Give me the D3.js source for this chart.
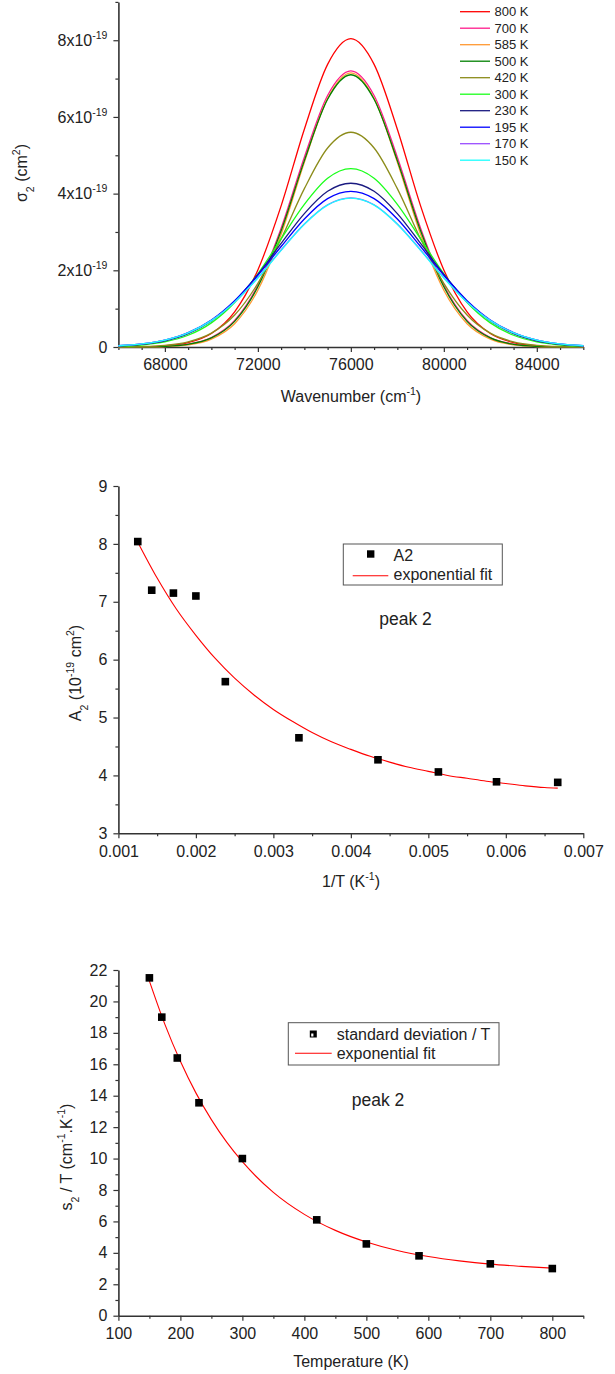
<!DOCTYPE html>
<html>
<head>
<meta charset="utf-8">
<script src="https://cdn.jsdelivr.net/npm/d3@7"></script>
<style>
  body { margin: 0; background: #fff; }
  svg { display: block; font-family: "Liberation Sans", Arial, sans-serif; }
</style>
</head>
<body>
<svg id="chart" width="615" height="1374"></svg>
<script>
// ---- top panel: gaussian band for each temperature (values in 1e-19 cm2) ----
const wavenumbers = [66000, 67000, 68000, 69000, 70000, 71000, 72000, 73000, 74000, 75000, 76000,
  77000, 78000, 79000, 80000, 81000, 82000, 83000, 84000, 85000, 86000];
const bandLabels = ["800 K", "700 K", "585 K", "500 K", "420 K", "300 K", "230 K", "195 K", "170 K", "150 K"];
const bandColors = ["#ff0000", "#ff1a8c", "#ff9933", "#008000", "#8c8c1a", "#1aff1a", "#1a1a80", "#0000ff", "#9a4dff", "#1affff"];
const band800 = [0.001, 0.007, 0.031, 0.114, 0.353, 0.918, 2.01, 3.68, 5.68, 7.37, 8.04, 7.37, 5.68, 3.68, 2.01, 0.918, 0.353, 0.114, 0.031, 0.007, 0.001];
const band700 = [0.001, 0.004, 0.018, 0.073, 0.247, 0.691, 1.61, 3.10, 4.95, 6.56, 7.20, 6.56, 4.95, 3.10, 1.61, 0.691, 0.247, 0.073, 0.018, 0.004, 0.001];
const band585 = [0.000, 0.002, 0.013, 0.057, 0.206, 0.608, 1.48, 2.94, 4.82, 6.48, 7.15, 6.48, 4.82, 2.94, 1.48, 0.608, 0.206, 0.057, 0.013, 0.002, 0.000];
const band500 = [0.001, 0.003, 0.017, 0.069, 0.236, 0.668, 1.57, 3.03, 4.86, 6.46, 7.10, 6.46, 4.86, 3.03, 1.57, 0.668, 0.236, 0.069, 0.017, 0.003, 0.001];
const band420 = [0.003, 0.012, 0.043, 0.134, 0.361, 0.834, 1.66, 2.82, 4.13, 5.19, 5.60, 5.19, 4.13, 2.82, 1.66, 0.834, 0.361, 0.134, 0.043, 0.012, 0.003];
const band300 = [0.018, 0.052, 0.133, 0.306, 0.629, 1.16, 1.91, 2.82, 3.72, 4.40, 4.65, 4.40, 3.72, 2.82, 1.91, 1.16, 0.629, 0.306, 0.133, 0.052, 0.018];
const band230 = [0.026, 0.068, 0.162, 0.349, 0.678, 1.19, 1.89, 2.70, 3.48, 4.06, 4.27, 4.06, 3.48, 2.70, 1.89, 1.19, 0.678, 0.349, 0.162, 0.068, 0.026];
const band195 = [0.032, 0.079, 0.181, 0.376, 0.706, 1.21, 1.87, 2.62, 3.34, 3.87, 4.06, 3.87, 3.34, 2.62, 1.87, 1.21, 0.706, 0.376, 0.181, 0.079, 0.032];
const band170 = [0.032, 0.080, 0.181, 0.372, 0.693, 1.17, 1.81, 2.53, 3.21, 3.71, 3.89, 3.71, 3.21, 2.53, 1.81, 1.17, 0.693, 0.372, 0.181, 0.080, 0.032];
const band150 = [0.032, 0.079, 0.179, 0.368, 0.688, 1.17, 1.80, 2.52, 3.20, 3.70, 3.88, 3.70, 3.20, 2.52, 1.80, 1.17, 0.688, 0.368, 0.179, 0.079, 0.032];
const bands = [band800, band700, band585, band500, band420, band300, band230, band195, band170, band150];
const topXTicks = [68000, 72000, 76000, 80000, 84000];
const topYTicks = [0, 2, 4, 6, 8];

// ---- middle panel: amplitude vs 1/T ----
const invT = [0.00125, 0.00143, 0.00171, 0.00200, 0.00238, 0.00333, 0.00435, 0.00513, 0.00588, 0.00667];
const amplitude = [8.04, 7.20, 7.15, 7.10, 5.62, 4.65, 4.27, 4.06, 3.89, 3.88];
const ampFitX = [0.00125, 0.0015, 0.00175, 0.002, 0.00225, 0.0025, 0.00275, 0.003, 0.00325, 0.0035, 0.00375, 0.004,
  0.00425, 0.0045, 0.00475, 0.005, 0.00525, 0.0055, 0.00575, 0.006, 0.00625, 0.0065, 0.00667];
const ampFitY = [8.03, 7.41, 6.87, 6.42, 6.02, 5.68, 5.39, 5.14, 4.93, 4.74, 4.58, 4.45,
  4.33, 4.23, 4.14, 4.07, 4.00, 3.95, 3.90, 3.86, 3.82, 3.79, 3.78];
const midXTicks = [0.001, 0.002, 0.003, 0.004, 0.005, 0.006, 0.007];
const midYTicks = [3, 4, 5, 6, 7, 8, 9];

// ---- bottom panel: standard deviation / T vs temperature ----
const temperature = [150, 170, 195, 230, 300, 420, 500, 585, 700, 800];
const sdOverT = [21.5, 19.0, 16.4, 13.55, 10.0, 6.1, 4.57, 3.81, 3.30, 3.0];
const sdFitX = [150, 175, 200, 225, 250, 275, 300, 350, 400, 450, 500, 550, 600, 650, 700, 750, 800];
const sdFitY = [21.30, 18.54, 16.19, 14.18, 12.48, 11.03, 9.80, 7.85, 6.45, 5.43, 4.69, 4.15, 3.77, 3.49, 3.28, 3.14, 3.03];
const botXTicks = [100, 200, 300, 400, 500, 600, 700, 800];
const botYTicks = [0, 2, 4, 6, 8, 10, 12, 14, 16, 18, 20, 22];

const svg = d3.select("#chart");
const FONT = "16px 'Liberation Sans', Arial, sans-serif";
const AXIS_COLOR = "#333";
const TEXT_COLOR = "#222";

// draws left + bottom axis with major and minor ticks
function drawAxes(x, y, xMajor, xMinor, yMajor, yMinor, xFormat, yFormat) {
  const [x0] = x.range();
  const [y0] = y.range();

  const xg = svg.append("g").attr("transform", `translate(0,${y0})`);
  const xMinorG = xg.append("g").call(d3.axisBottom(x).tickValues(xMinor).tickSize(3).tickSizeOuter(0));
  xMinorG.select(".domain").remove();
  xMinorG.selectAll("text").remove();
  xg.append("g").call(d3.axisBottom(x).tickValues(xMajor).tickSize(5).tickPadding(7).tickSizeOuter(0).tickFormat(xFormat));

  const yg = svg.append("g").attr("transform", `translate(${x0},0)`);
  const yMinorG = yg.append("g").call(d3.axisLeft(y).tickValues(yMinor).tickSize(3).tickSizeOuter(0));
  yMinorG.select(".domain").remove();
  yMinorG.selectAll("text").remove();
  const yMajorG = yg.append("g").call(d3.axisLeft(y).tickValues(yMajor).tickSize(5).tickPadding(6).tickSizeOuter(0).tickFormat(yFormat));

  [xg, yg].forEach(g => {
    g.selectAll("g").attr("font-family", null).attr("font-size", null);
    g.selectAll(".domain").attr("stroke", AXIS_COLOR).attr("stroke-width", 1.6);
    g.selectAll(".tick line").attr("stroke", AXIS_COLOR).attr("stroke-width", 1.2);
    g.selectAll("text").style("font", FONT).attr("fill", TEXT_COLOR);
  });
  return { xg, yg, yMajorG };
}

// text with sub/superscript parts: [[text, level]] level: 0 normal, -1 sub, 1 sup
function richText(parent, parts, size) {
  const t = parent.append("text").attr("fill", TEXT_COLOR).style("font-size", size + "px");
  let level = 0;
  parts.forEach(([s, lvl]) => {
    const dy = (level - lvl) * size * 0.42;
    t.append("tspan")
      .attr("dy", dy)
      .style("font-size", lvl === 0 ? size + "px" : (size * 0.66) + "px")
      .text(s);
    level = lvl;
  });
  return t;
}

function xLabel(cx, baseline, parts) {
  richText(svg, parts, 16).attr("x", cx).attr("y", baseline).attr("text-anchor", "middle");
}

function yLabel(cx, cy, parts) {
  richText(svg.append("g").attr("transform", `translate(${cx},${cy}) rotate(-90)`), parts, 16)
    .attr("x", 0).attr("y", 0).attr("dy", "0.35em").attr("text-anchor", "middle");
}

// ================= top panel =================
const xTop = d3.scaleLinear().domain([66000, 86000]).range([118.4, 583.3]);
const yTop = d3.scaleLinear().domain([0, 9]).range([347, 1.9]);
const topAxes = drawAxes(xTop, yTop, topXTicks, d3.range(66000, 86001, 1000).filter(v => v % 4000 !== 0),
  topYTicks, [1, 3, 5, 7, 9], d3.format("d"), d => d === 0 ? "0" : d + "x10");
topAxes.yMajorG.selectAll("text").filter(d => d !== 0)
  .append("tspan").attr("dy", -7).style("font-size", "10.5px").text("-19");

const bandLine = d3.line()
  .x((d, i) => xTop(wavenumbers[i]))
  .y(d => yTop(d))
  .curve(d3.curveMonotoneX);

bands.forEach((b, i) => {
  svg.append("path")
    .datum(b)
    .attr("fill", "none")
    .attr("stroke", bandColors[i])
    .attr("stroke-width", 1.3)
    .attr("d", bandLine);
});

// legend top right
const topLegend = svg.append("g");
bandLabels.forEach((label, i) => {
  const yy = 11.7 + i * 16.5;
  topLegend.append("line")
    .attr("x1", 460).attr("x2", 490).attr("y1", yy).attr("y2", yy)
    .attr("stroke", bandColors[i]).attr("stroke-width", 1.3);
  topLegend.append("text")
    .attr("x", 494.5).attr("y", yy + 4.6)
    .attr("fill", TEXT_COLOR).style("font", "13px 'Liberation Sans', Arial, sans-serif")
    .text(label);
});

xLabel(351, 402, [["Wavenumber (cm", 0], ["-1", 1], [")", 0]]);
yLabel(27, 173, [["σ", 0], ["2", -1], [" (cm", 0], ["2", 1], [")", 0]]);

// ================= middle panel =================
const xMid = d3.scaleLinear().domain([0.001, 0.007]).range([118.4, 583.3]);
const yMid = d3.scaleLinear().domain([3, 9]).range([833.3, 486]);
drawAxes(xMid, yMid, midXTicks, d3.range(6).map(i => 0.0015 + i * 0.001),
  midYTicks, d3.range(6).map(i => 3.5 + i), d3.format(".3f"), d3.format("d"));

const ampFit = d3.line()
  .x((d, i) => xMid(ampFitX[i]))
  .y(d => yMid(d))
  .curve(d3.curveMonotoneX);
svg.append("path").datum(ampFitY)
  .attr("fill", "none").attr("stroke", "#ff0000").attr("stroke-width", 1.1)
  .attr("d", ampFit);

svg.append("g").selectAll("rect")
  .data(amplitude)
  .join("rect")
  .attr("x", (d, i) => xMid(invT[i]) - 3.8)
  .attr("y", d => yMid(d) - 3.8)
  .attr("width", 7.6).attr("height", 7.6)
  .attr("fill", "#000");

// legend
svg.append("rect").attr("x", 343.3).attr("y", 544).attr("width", 159).attr("height", 41)
  .attr("fill", "#fff").attr("stroke", "#555").attr("stroke-width", 1);
svg.append("rect").attr("x", 367).attr("y", 550.3).attr("width", 7.4).attr("height", 7.4).attr("fill", "#000");
svg.append("line").attr("x1", 352.7).attr("x2", 388.3).attr("y1", 575.7).attr("y2", 575.7)
  .attr("stroke", "#ff0000").attr("stroke-width", 1.1);
svg.append("text").attr("x", 393.5).attr("y", 560.6).attr("fill", TEXT_COLOR).style("font", FONT).text("A2");
svg.append("text").attr("x", 393.5).attr("y", 580.2).attr("fill", TEXT_COLOR).style("font", FONT).text("exponential fit");
svg.append("text").attr("x", 379.3).attr("y", 625).attr("fill", TEXT_COLOR)
  .style("font", "17.5px 'Liberation Sans', Arial, sans-serif").text("peak 2");

xLabel(351, 887, [["1/T (K", 0], ["-1", 1], [")", 0]]);
yLabel(81, 673, [["A", 0], ["2", -1], [" (10", 0], ["-19", 1], [" cm", 0], ["2", 1], [")", 0]]);

// ================= bottom panel =================
const xBot = d3.scaleLinear().domain([100, 850]).range([118.4, 583.3]);
const yBot = d3.scaleLinear().domain([0, 22]).range([1315.7, 970]);
drawAxes(xBot, yBot, botXTicks, d3.range(150, 851, 100),
  botYTicks, d3.range(1, 22, 2), d3.format("d"), d3.format("d"));

const sdFit = d3.line()
  .x((d, i) => xBot(sdFitX[i]))
  .y(d => yBot(d))
  .curve(d3.curveMonotoneX);
svg.append("path").datum(sdFitY)
  .attr("fill", "none").attr("stroke", "#ff0000").attr("stroke-width", 1.1)
  .attr("d", sdFit);

svg.append("g").selectAll("rect")
  .data(sdOverT)
  .join("rect")
  .attr("x", (d, i) => xBot(temperature[i]) - 3.8)
  .attr("y", d => yBot(d) - 3.8)
  .attr("width", 7.6).attr("height", 7.6)
  .attr("fill", "#000");

// legend
svg.append("rect").attr("x", 288.3).attr("y", 1022.7).attr("width", 210.7).attr("height", 42.3)
  .attr("fill", "#fff").attr("stroke", "#555").attr("stroke-width", 1);
svg.append("rect").attr("x", 309.8).attr("y", 1030.5).attr("width", 7).attr("height", 7).attr("fill", "#000");
svg.append("rect").attr("x", 311.2).attr("y", 1033.5).attr("width", 2.2).attr("height", 3).attr("fill", "#fff");
svg.append("line").attr("x1", 295).attr("x2", 331.7).attr("y1", 1053.3).attr("y2", 1053.3)
  .attr("stroke", "#ff0000").attr("stroke-width", 1.1);
svg.append("text").attr("x", 336.7).attr("y", 1040).attr("fill", TEXT_COLOR).style("font", FONT).text("standard deviation / T");
svg.append("text").attr("x", 336.7).attr("y", 1058.8).attr("fill", TEXT_COLOR).style("font", FONT).text("exponential fit");
svg.append("text").attr("x", 351.7).attr("y", 1105.7).attr("fill", TEXT_COLOR)
  .style("font", "17.5px 'Liberation Sans', Arial, sans-serif").text("peak 2");

xLabel(351, 1367, [["Temperature (K)", 0]]);
yLabel(72, 1157, [["s", 0], ["2", -1], [" / T (cm", 0], ["-1", 1], [".K", 0], ["-1", 1], [")", 0]]);
</script>
</body>
</html>
